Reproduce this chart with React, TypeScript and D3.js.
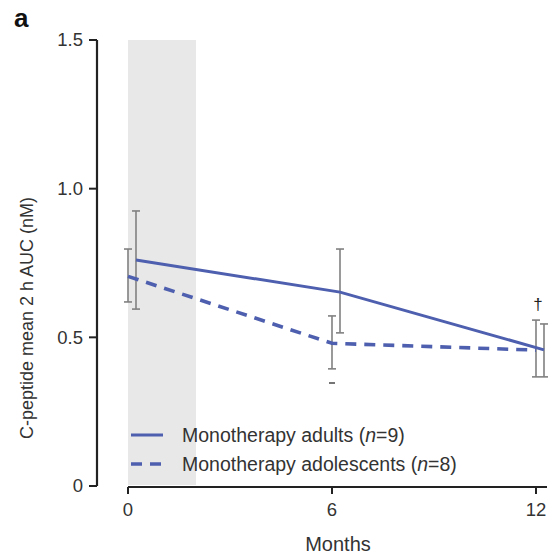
import React from "react";
import * as d3 from "d3";

// Months of follow-up
const months = [0, 6, 12];
// Mean C-peptide 2 h AUC (nM) and error bar bounds
const adultsMean = [0.76, 0.652, 0.458];
const adultsLow = [0.595, 0.515, 0.367];
const adultsHigh = [0.925, 0.797, 0.545];
const adolMean = [0.705, 0.48, 0.457];
const adolLow = [0.619, 0.394, 0.367];
const adolHigh = [0.797, 0.572, 0.558];
const yTicks = [0, 0.5, 1.0, 1.5];
const xTicks = [0, 6, 12];
const shadedPeriod = [0, 2];
const seriesLabels = ["Monotherapy adults", "Monotherapy adolescents"];
const seriesN = [9, 8];

const W = 551;
const H = 557;
const BLUE = "#4d5fae";
const GREY = "#808080";
const FONT = "Liberation Sans, Arial, sans-serif";
const FS = 18.5;

export default function App() {
  const x = d3.scaleLinear().domain([0, 12]).range([128, 536]);
  const y = d3.scaleLinear().domain([0, 1.5]).range([486, 40]);
  const adultOffset = 8;

  const line = d3
    .line<[number, number]>()
    .x((d) => d[0])
    .y((d) => d[1]);

  const adultPts: [number, number][] = months.map((m, i) => [x(m) + adultOffset, y(adultsMean[i])]);
  const adolPts: [number, number][] = months.map((m, i) => [x(m), y(adolMean[i])]);

  const errBar = (cx: number, lo: number, hi: number, key: string) => (
    <g key={key} stroke={GREY} strokeWidth={1.6}>
      <line x1={cx} x2={cx} y1={y(lo)} y2={y(hi)} />
      <line x1={cx - 4} x2={cx + 4} y1={y(lo)} y2={y(lo)} />
      <line x1={cx - 4} x2={cx + 4} y1={y(hi)} y2={y(hi)} />
    </g>
  );

  return (
    <svg width={W} height={H} style={{ position: "absolute", left: 0, top: 0, background: "#fff" }}>
      <text x={14} y={27} fontFamily={FONT} fontWeight="bold" fontSize={26} fill="#111">
        a
      </text>
      {/* shaded period */}
      <rect
        x={x(shadedPeriod[0])}
        y={y(1.5)}
        width={x(shadedPeriod[1]) - x(shadedPeriod[0])}
        height={y(0) - y(1.5) - 1}
        fill="#e8e8e8"
      />
      {/* y axis */}
      <line x1={97} x2={97} y1={y(1.5)} y2={y(0)} stroke="#222" strokeWidth={2.2} />
      {yTicks.map((t) => (
        <g key={t}>
          <line x1={89} x2={97} y1={y(t)} y2={y(t)} stroke="#222" strokeWidth={2} />
          <text
            x={83}
            y={y(t)}
            dy="0.35em"
            textAnchor="end"
            fontFamily={FONT}
            fontSize={FS}
            fill="#333"
          >
            {t === 0 ? "0" : t.toFixed(1)}
          </text>
        </g>
      ))}
      <text
        transform={`translate(33,${318}) rotate(-90)`}
        textAnchor="middle"
        fontFamily={FONT}
        fontSize={18}
        fill="#333"
      >
        C-peptide mean 2 h AUC (nM)
      </text>
      {/* x axis */}
      <line x1={x(0)} x2={547} y1={487} y2={487} stroke="#222" strokeWidth={2.2} />
      {xTicks.map((t) => (
        <g key={t}>
          <line x1={x(t)} x2={x(t)} y1={487} y2={494} stroke="#222" strokeWidth={2} />
          <text
            x={x(t)}
            y={516}
            textAnchor="middle"
            fontFamily={FONT}
            fontSize={FS}
            fill="#333"
          >
            {t}
          </text>
        </g>
      ))}
      <text x={338} y={551} textAnchor="middle" fontFamily={FONT} fontSize={20} fill="#333">
        Months
      </text>

      {/* error bars */}
      {months.map((m, i) => errBar(x(m), adolLow[i], adolHigh[i], "ado" + i))}
      {months.map((m, i) => errBar(x(m) + adultOffset, adultsLow[i], adultsHigh[i], "adu" + i))}

      {/* series lines */}
      <path d={line(adultPts) || ""} fill="none" stroke={BLUE} strokeWidth={3} />
      <path
        d={line(adolPts) || ""}
        fill="none"
        stroke={BLUE}
        strokeWidth={3.6}
        strokeDasharray="11 8"
      />

      {/* significance markers */}
      <line x1={x(6) - 3} x2={x(6) + 3} y1={383} y2={383} stroke="#666" strokeWidth={1.8} />
      <text x={x(12) + 2} y={310} textAnchor="middle" fontFamily={FONT} fontSize={17} fill="#222">
        †
      </text>

      {/* legend */}
      {seriesLabels.map((lbl, i) => (
        <g key={lbl}>
          <line
            x1={131}
            x2={163}
            y1={435 + i * 29}
            y2={435 + i * 29}
            stroke={BLUE}
            strokeWidth={i === 0 ? 3 : 3.6}
            strokeDasharray={i === 0 ? undefined : "11 8"}
          />
          <text x={182} y={435 + i * 29} dy="0.35em" fontFamily={FONT} fontSize={19.5} fill="#333">
            {lbl} (<tspan fontStyle="italic">n</tspan>={seriesN[i]})
          </text>
        </g>
      ))}
    </svg>
  );
}
